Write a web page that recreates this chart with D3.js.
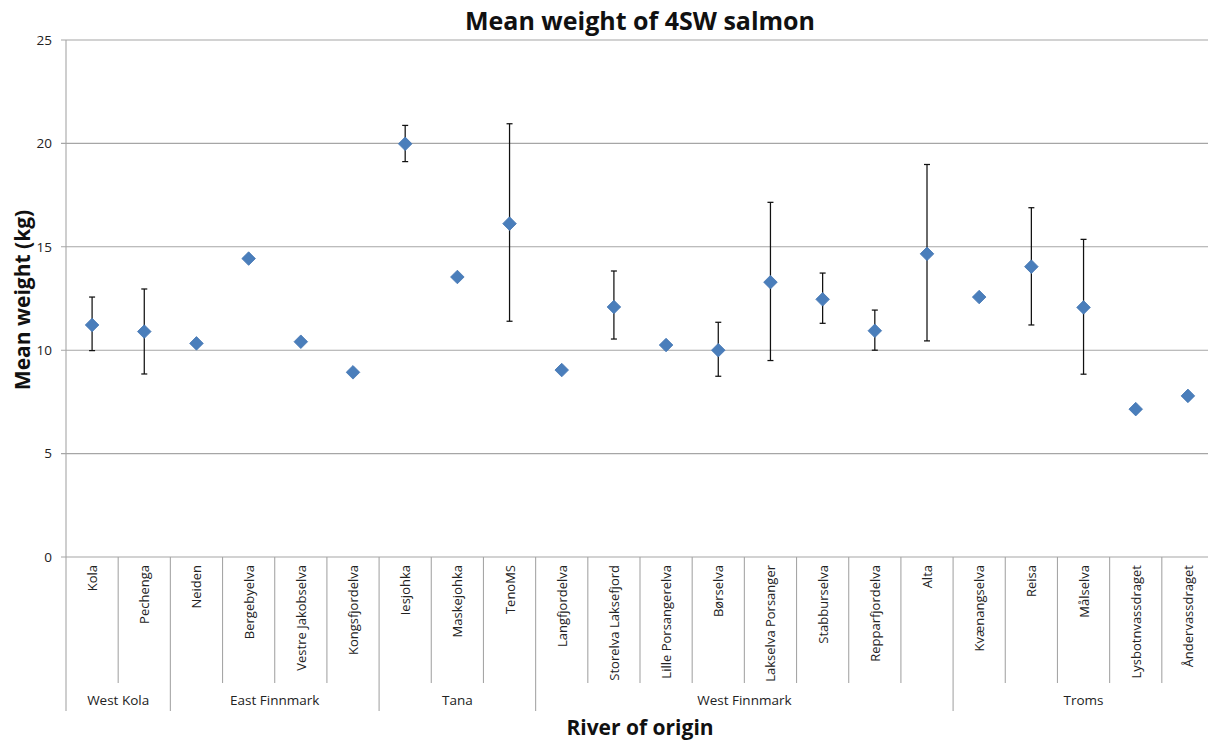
<!DOCTYPE html>
<html>
<head>
<meta charset="utf-8">
<script src="https://cdn.jsdelivr.net/npm/d3@7"></script>
<style>
  html, body { margin: 0; padding: 0; background: #fff; }
  svg { display: block; }
  text { font-family: "Open Sans", "DejaVu Sans", sans-serif; }
</style>
</head>
<body>
<svg id="chart" width="1208" height="742"></svg>
<script>
// ---------- data ----------
const categories = ["Kola", "Pechenga", "Neiden", "Bergebyelva", "Vestre Jakobselva", "Kongsfjordelva",
  "Iesjohka", "Maskejohka", "TenoMS", "Langfjordelva", "Storelva Laksefjord", "Lille Porsangerelva",
  "Børselva", "Lakselva Porsanger", "Stabburselva", "Repparfjordelva", "Alta", "Kvænangselva",
  "Reisa", "Målselva", "Lysbotnvassdraget", "Åndervassdraget"];
const groupNames = ["West Kola", "East Finnmark", "Tana", "West Finnmark", "Troms"];
const groupSizes = [2, 4, 3, 8, 5];
const meanWeight = [11.22, 10.9, 10.33, 14.43, 10.41, 8.93, 19.98, 13.54, 16.12, 9.04, 12.09, 10.25,
  10.0, 13.29, 12.46, 10.94, 14.66, 12.57, 14.04, 12.07, 7.15, 7.79];
const upperBound = [12.57, 12.96, null, null, null, null, 20.87, null, 20.95, null, 13.83, null,
  11.35, 17.15, 13.73, 11.94, 18.98, null, 16.89, 15.36, null, null];
const lowerBound = [9.98, 8.85, null, null, null, null, 19.12, null, 11.4, null, 10.54, null,
  8.74, 9.5, 11.3, 10.0, 10.45, null, 11.22, 8.84, null, null];
const yTicks = [0, 5, 10, 15, 20, 25];

// ---------- layout ----------
const svg = d3.select("#chart");
const pLeft = 66, pRight = 1214, pTop = 40, pBottom = 557;
const catLineEnd = 683, groupLineEnd = 711;

const x = d3.scaleBand().domain(categories).range([pLeft, pRight]).padding(0);
const y = d3.scaleLinear().domain([0, 25]).range([pBottom, pTop]);

// gridlines
svg.append("g").selectAll("line").data(yTicks).join("line")
  .attr("x1", pLeft - 5).attr("x2", pRight)
  .attr("y1", d => y(d)).attr("y2", d => y(d))
  .attr("stroke", "#a6a6a6").attr("stroke-width", 1.1);

// y-axis tick labels
const yAxis = d3.axisLeft(y).tickValues(yTicks).tickSize(0).tickPadding(14);
const yg = svg.append("g").attr("transform", `translate(${pLeft},0)`).call(yAxis);
yg.select(".domain").remove();
yg.selectAll("text").attr("font-size", 13.5).attr("fill", "#222")
  .attr("font-family", "'Open Sans', sans-serif");

// y axis line (extends down through category area)
svg.append("line").attr("x1", pLeft).attr("x2", pLeft).attr("y1", pTop).attr("y2", groupLineEnd)
  .attr("stroke", "#a6a6a6").attr("stroke-width", 1.1);

// category dividers
let groupBounds = [];
let acc = 0;
groupSizes.forEach(s => { acc += s; groupBounds.push(acc); });
svg.append("g").selectAll("line").data(categories.slice(1)).join("line")
  .attr("x1", d => x(d)).attr("x2", d => x(d))
  .attr("y1", pBottom)
  .attr("y2", (d, i) => groupBounds.includes(i + 1) ? groupLineEnd : catLineEnd)
  .attr("stroke", "#a6a6a6").attr("stroke-width", 1.1);

// category labels (rotated)
svg.append("g").selectAll("text").data(categories).join("text")
  .attr("transform", d => `translate(${x(d) + x.bandwidth() / 2 + 5},${pBottom + 8}) rotate(-90)`)
  .attr("text-anchor", "end")
  .attr("font-size", 13).attr("fill", "#222")
  .text(d => d);

// group labels
let start = 0;
const groupData = groupNames.map((g, i) => {
  const s = start; start += groupSizes[i];
  return { name: g, x0: x(categories[s]), x1: x(categories[start - 1]) + x.bandwidth() };
});
svg.append("g").selectAll("text").data(groupData).join("text")
  .attr("x", d => (d.x0 + d.x1) / 2).attr("y", 705)
  .attr("text-anchor", "middle").attr("font-size", 13.5).attr("fill", "#222")
  .text(d => d.name);

// error bars
const errData = categories.map((c, i) => ({ c, hi: upperBound[i], lo: lowerBound[i] }))
  .filter(d => d.hi != null);
const eg = svg.append("g").attr("stroke", "#111").attr("stroke-width", 1.25);
errData.forEach(d => {
  const cx = x(d.c) + x.bandwidth() / 2;
  eg.append("line").attr("x1", cx).attr("x2", cx).attr("y1", y(d.hi)).attr("y2", y(d.lo));
  eg.append("line").attr("x1", cx - 3).attr("x2", cx + 3).attr("y1", y(d.hi)).attr("y2", y(d.hi));
  eg.append("line").attr("x1", cx - 3).attr("x2", cx + 3).attr("y1", y(d.lo)).attr("y2", y(d.lo));
});

// markers
const diamond = d3.symbol().type(d3.symbolSquare).size(92);
svg.append("g").selectAll("path").data(categories).join("path")
  .attr("d", diamond)
  .attr("transform", (d, i) => `translate(${x(d) + x.bandwidth() / 2},${y(meanWeight[i])}) rotate(45)`)
  .attr("fill", "#4a7ebb").attr("stroke", "#4677b3").attr("stroke-width", 0.8);

// titles
svg.append("text").attr("x", 640).attr("y", 30).attr("text-anchor", "middle")
  .attr("font-size", 25).attr("font-weight", "bold").attr("fill", "#111")
  .text("Mean weight of 4SW salmon");
svg.append("text").attr("transform", "translate(30,300) rotate(-90)").attr("text-anchor", "middle")
  .attr("font-size", 21).attr("font-weight", "bold").attr("fill", "#111")
  .text("Mean weight (kg)");
svg.append("text").attr("x", 640).attr("y", 735).attr("text-anchor", "middle")
  .attr("font-size", 21).attr("font-weight", "bold").attr("fill", "#111")
  .text("River of origin");
</script>
</body>
</html>
